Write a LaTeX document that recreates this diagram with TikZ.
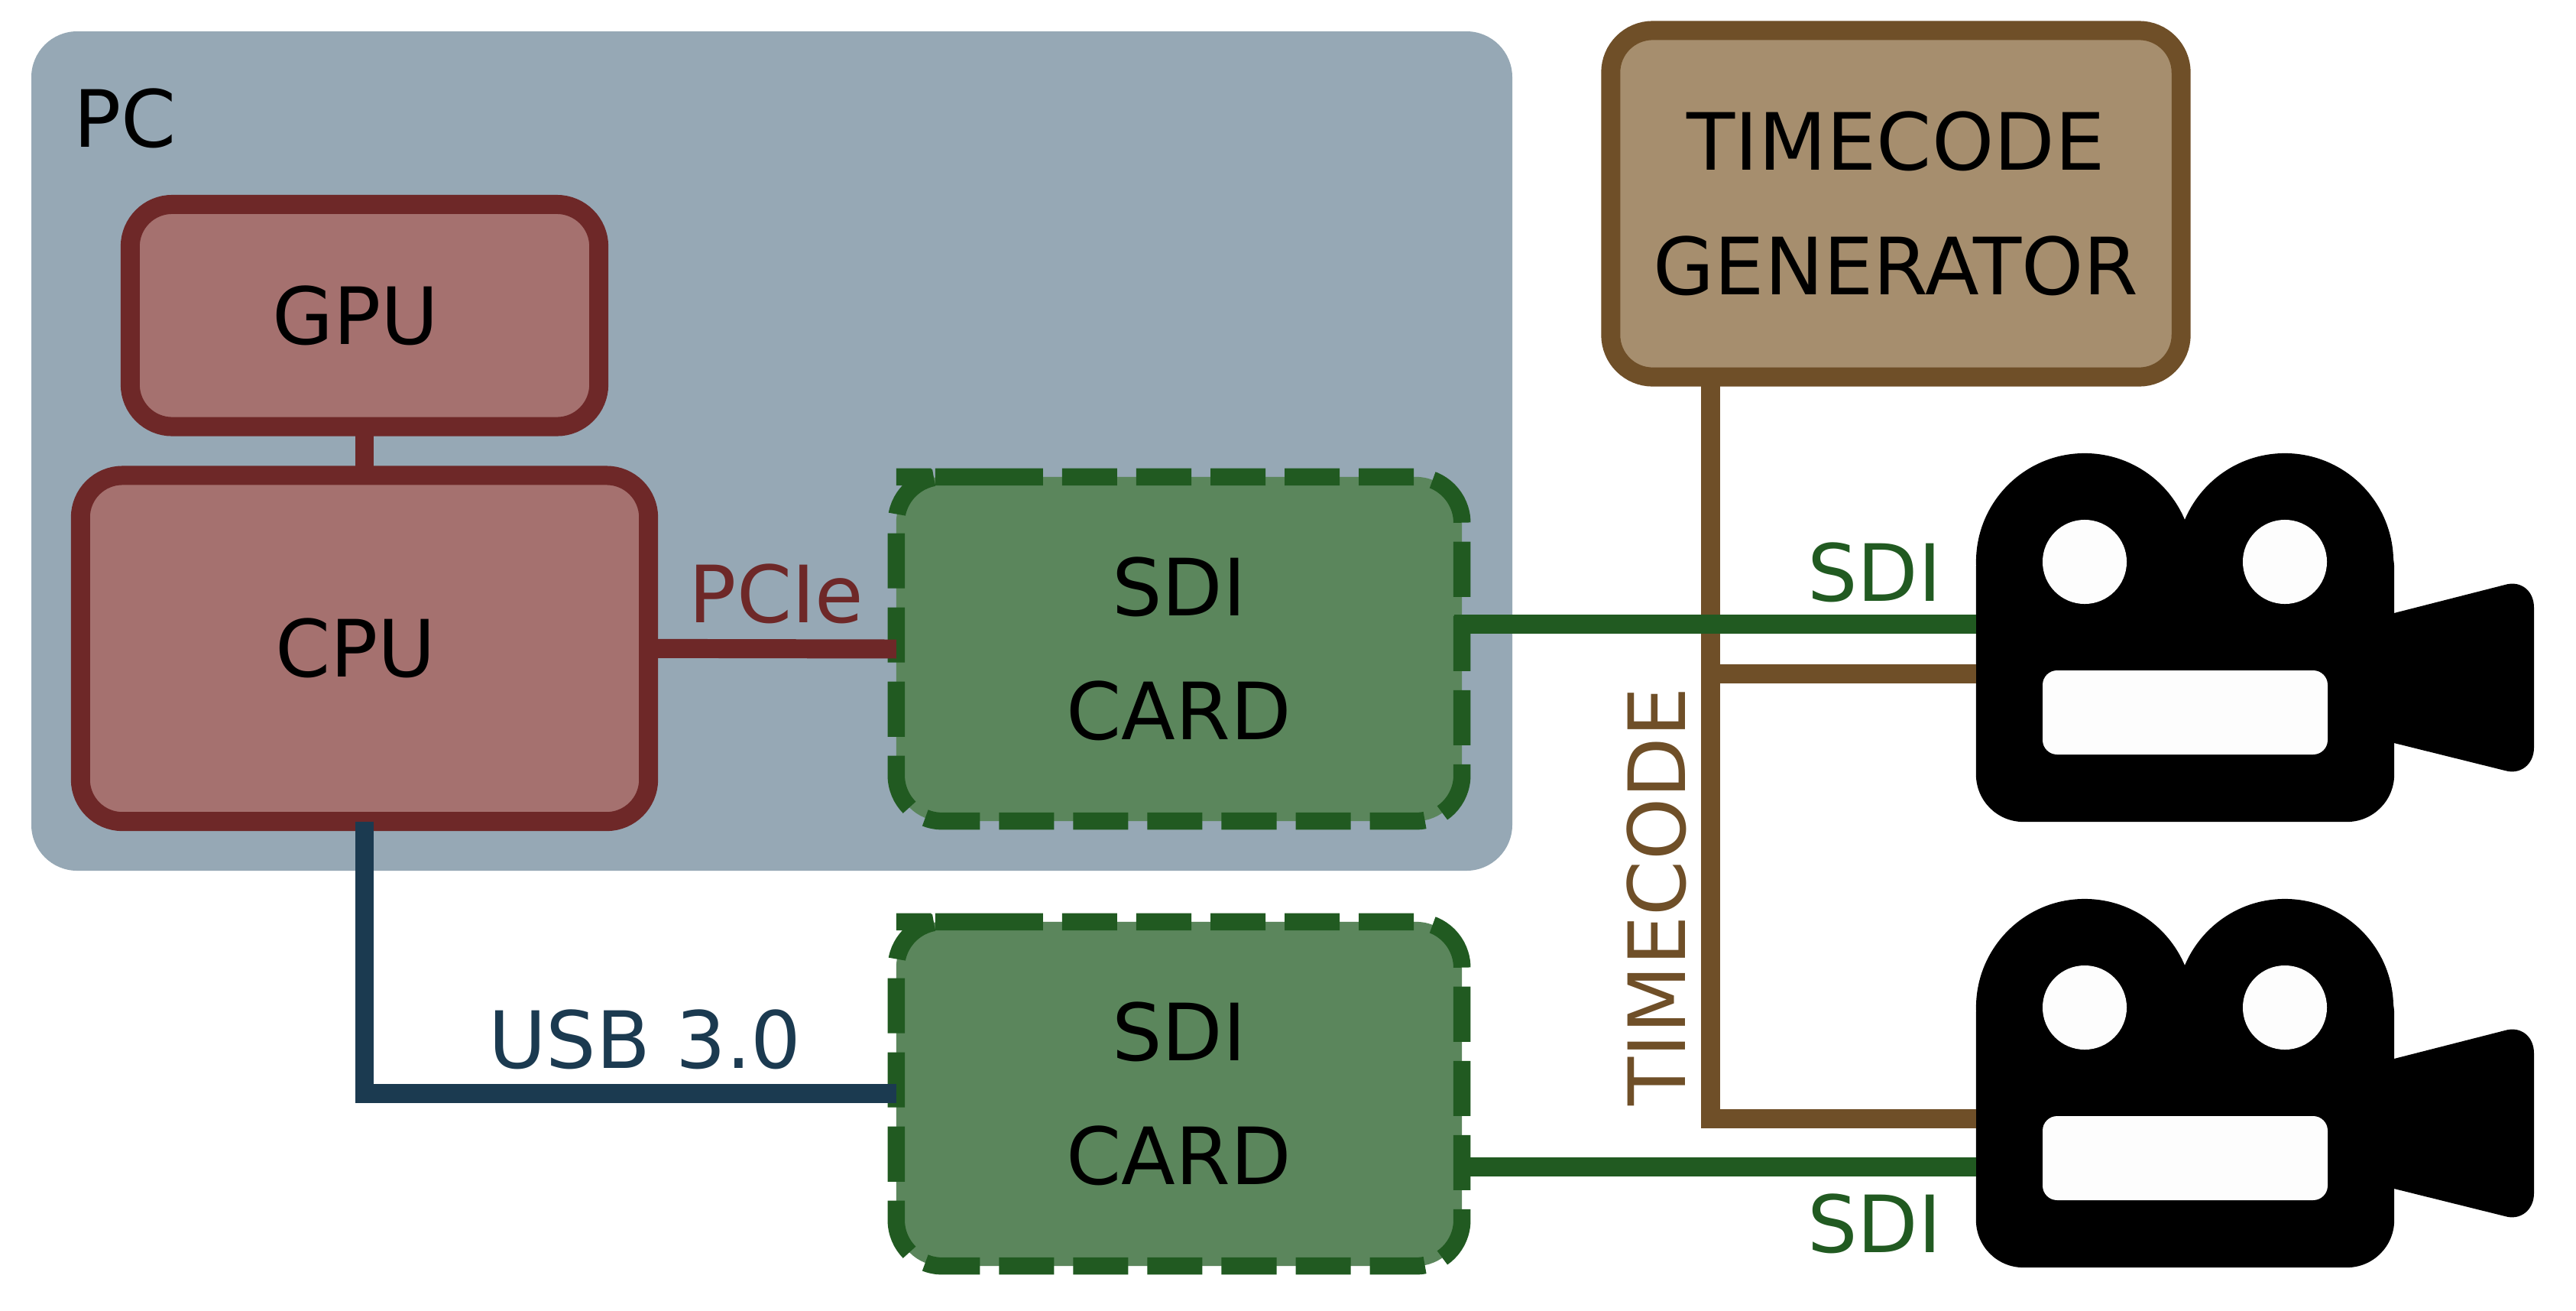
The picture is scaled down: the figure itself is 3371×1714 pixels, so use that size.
\documentclass[tikz,border=0pt]{standalone}
\usepackage{fontspec}
\setmainfont{DejaVu Sans}
\definecolor{pcfill}{HTML}{96A8B5}
\definecolor{redfill}{HTML}{A5716F}
\definecolor{redline}{HTML}{6E2828}
\definecolor{greenfill}{HTML}{5B865C}
\definecolor{greenline}{HTML}{215A21}
\definecolor{brownfill}{HTML}{A68E6E}
\definecolor{brownline}{HTML}{6F4F28}
\definecolor{blueline}{HTML}{1B3A50}
\definecolor{holewhite}{HTML}{FDFDFD}
\tikzset{
  lbl/.style={inner sep=0pt,outer sep=0pt,font=\fontsize{29.4}{46.2}\selectfont,align=center},
  box/.style={lbl,draw,rectangle,line width=7.1pt,rounded corners=0.55cm},
  redbox/.style={box,draw=redline,fill=redfill},
  brownbox/.style={box,draw=brownline,fill=brownfill},
  cardbox/.style={lbl,rectangle,fill=greenfill,minimum width=7.40cm,minimum height=4.50cm,rounded corners=0.6cm},
  cardedge/.style={draw=greenline,line width=6.4pt,rounded corners=0.6cm,dash pattern=on 20.5pt off 7.1pt},
  wire/.style={line width=7.1pt},
  camhull/.style={rectangle,fill=black,inner sep=0pt,outer sep=0pt,minimum width=5.47cm,minimum height=3.93cm,rounded corners=0.62cm},
}
\newcommand{\cardrim}[1]{%
  \draw[cardedge] (#1.north west) ++(60,0) -- (#1.north east) -- (#1.south east) -- (#1.south west) -- (#1.north west) -- cycle;}
\newcommand{\mycam}[2]{%
  \node[camhull] (#1) at (2859.5,#2+878.5) {};
  \begin{scope}[shift={(0,#2)}]
    \fill[black] (2728,735) circle (1.42cm);
    \fill[black] (2990,735) circle (1.42cm);
    \fill[black] (3100,810) -- (3133,802) -- (3278,765) .. controls (3298,759) and (3316,772) .. (3316,795)
      -- (3316,978) .. controls (3316,1000) and (3298,1014) .. (3278,1008) -- (3133,972) -- (3100,964) -- cycle;
    \fill[holewhite] (2728,735) circle (0.55cm);
    \fill[holewhite] (2990,735) circle (0.55cm);
    \fill[holewhite,rounded corners=0.19cm] (2673,877) rectangle (3046,987);
  \end{scope}}
\begin{document}
\begin{tikzpicture}[x=0.01cm,y=-0.01cm]
\useasboundingbox (0,0) rectangle (3371,1714);
\fill[white] (0,0) rectangle (3371,1714);
\fill[pcfill,rounded corners=0.6cm] (41,41) rectangle (1979,1139);
\node[lbl,anchor=west] (pc) at (96,155) {PC};
% boxes
\node[brownbox,minimum width=7.46cm,minimum height=4.53cm] (tc) at (2481,266.5) {TIMECODE\\GENERATOR};
\node[redbox,minimum width=6.13cm,minimum height=2.905cm] (gpu) at (477,412.75) {\kern-0.23cm GPU};
\node[redbox,minimum width=7.43cm,minimum height=4.525cm] (cpu) at (477,848.3) {\kern-0.23cm CPU};
\node[cardbox] (card1) at (1543,849) {SDI\\CARD};
\node[cardbox] (card2) at (1543,1431) {SDI\\CARD};
\cardrim{card1}
\cardrim{card2}
\mycam{cam1}{0}
\mycam{cam2}{583}
% anchors for wires
\coordinate (tcx) at (2238,1463);
\coordinate (jn) at (2238,881);
\coordinate (sdia) at (1903,816.5);
\coordinate (sdib) at (1903,1526);
\coordinate (usbc) at (477,1430);
% wires
\draw[wire,redline] (gpu.south -| usbc) -- (cpu.north -| usbc);
\draw[wire,redline] (cpu.east) -- (card1.west);
\draw[wire,brownline] (tc.south -| tcx) -- (tcx) -- (tcx -| cam2.west);
\draw[wire,brownline] (jn) -- (jn -| cam1.west);
\draw[wire,greenline] (sdia) -- (sdia -| cam1.west);
\draw[wire,greenline] (sdib) -- (sdib -| cam2.west);
\draw[wire,blueline] (usbc |- cpu.south) -- (usbc) -- (usbc -| card2.west);
% labels
\node[lbl,text=redline] (pcie) at (1016,777) {PCIe};
\node[lbl,text=blueline] (usb) at (844,1360) {USB 3.0};
\node[lbl,text=greenline] (sdi1) at (2453,749) {SDI};
\node[lbl,text=greenline] (sdi2) at (2453,1601) {SDI};
\node[lbl,text=brownline,rotate=90] (tclbl) at (2168,1173) {TIMECODE};
\end{tikzpicture}
\end{document}
